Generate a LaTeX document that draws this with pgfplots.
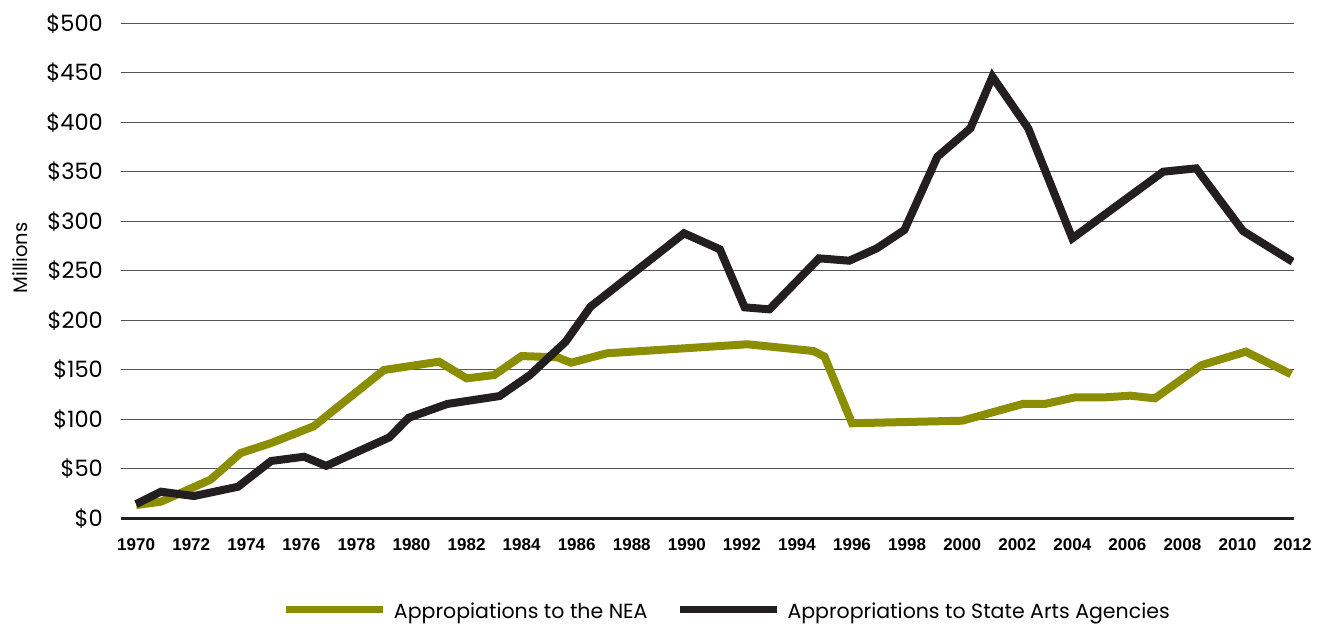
\documentclass[border=0pt]{standalone}
\usepackage{pgfplots}
\pgfplotsset{compat=1.18}
\usepackage{fontspec}
\setmainfont{Poppins}
\newfontfamily\xfont{Liberation Sans}
\definecolor{neagreen}{RGB}{138,142,0}
\definecolor{saablack}{RGB}{35,31,32}
\definecolor{gridgray}{RGB}{85,85,85}
\begin{document}
\begin{tikzpicture}
\useasboundingbox (0,0) rectangle (1321pt,-625pt);
\begin{axis}[
  at={(121pt,-518.3pt)}, anchor=south west,
  scale only axis, width=1173pt, height=495pt,
  xmin=1969.45, xmax=2012.05, ymin=0, ymax=500,
  axis line style={draw=none},
  tick style={draw=none},
  major tick length=0pt,
  xtick={1970,1972,...,2012},
  xticklabels={1970,1972,1974,1976,1978,1980,1982,1984,1986,1988,1990,1992,1994,1996,1998,2000,2002,2004,2006,2008,2010,2012},
  xticklabel style={font=\xfont\bfseries\fontsize{17}{17}\selectfont, inner sep=0pt, anchor=north, yshift=-20pt},
  ytick={50,100,...,500},
  yticklabel={\$\pgfmathprintnumber{\tick}},
  extra y ticks={0}, extra y tick labels={\$0},
  extra y tick style={major grid style={saablack, line width=2.5pt}},
  ymajorgrids, major grid style={gridgray, line width=1.3pt},
  yticklabel style={font=\fontsize{22.5}{22.5}\selectfont, inner sep=0pt, anchor=east, xshift=-18pt},
  /pgf/number format/assume math mode=true,
  ylabel={Millions},
  ylabel style={font=\fontsize{19.5}{19.5}\selectfont, at={(axis description cs:-0.0861,0.526)}, anchor=center},
  legend columns=2,
  legend image code/.code={\draw[#1, line width=7pt] (0pt,9pt) -- (97pt,9pt);},
  legend style={at={(axis description cs:0.1381,-0.167)}, anchor=north west, draw=none, fill=none,
    inner sep=0pt, outer sep=0pt, font=\fontsize{20.5}{20.5}\selectfont,
    cells={anchor=base west, inner sep=0pt},
    /tikz/every odd column/.append style={column sep=5pt},
    /tikz/every even column/.append style={column sep=27pt}},
]
\addplot[neagreen, line width=8pt, line join=miter] coordinates {
(1970.0,13.4) (1970.9,16.8) (1972.7,39) (1973.8,66) (1974.9,76) (1976.45,93)
(1979.0,149.8) (1981.0,158.2) (1982.0,141.4) (1983.0,144.7) (1984.0,163.9)
(1985.3,162.6) (1985.8,157.2) (1987.1,166.7) (1992.2,175.8) (1994.6,169)
(1995.0,163.3) (1996.0,96) (2000.0,98.6) (2002.2,115.5) (2003.0,115.5)
(2004.1,122.2) (2005.2,122.2) (2006.1,123.9) (2007.0,121.2) (2008.7,154.8)
(2010.3,168.3) (2011.95,145.5)
};
\addlegendentry{Appropiations to the NEA}
\addplot[saablack, line width=8pt, line join=miter] coordinates {
(1970.0,14.4) (1970.9,26.9) (1972.1,22.5) (1973.7,31.9) (1974.9,57.9)
(1976.1,62.2) (1976.9,53) (1979.2,81.8) (1979.9,101.6) (1981.3,115.5)
(1983.2,123.5) (1984.3,144.7) (1985.6,178.4) (1986.5,213.7) (1989.9,287.9)
(1991.2,271.7) (1992.1,213.1) (1993.0,211.1) (1994.8,262.6) (1995.9,260.2)
(1996.9,272.7) (1997.9,291.2) (1999.1,365.3) (2000.3,393.9) (2001.1,446.1)
(2002.4,393.9) (2004.0,282.8) (2007.3,350.1) (2008.5,353.5) (2010.2,290.2)
(2012.0,259.2)
};
\addlegendentry{Appropriations to State Arts Agencies}
\end{axis}
\end{tikzpicture}
\end{document}
